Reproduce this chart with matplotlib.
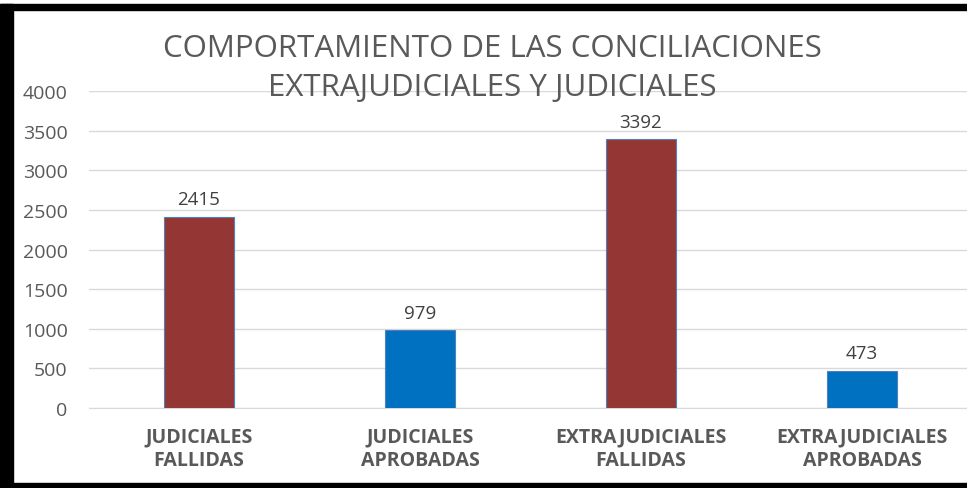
import matplotlib
matplotlib.use("Agg")
import matplotlib.pyplot as plt
from matplotlib.patches import Rectangle

plt.rcParams['font.family'] = ['Open Sans', 'DejaVu Sans']

# chart data
categories = ["JUDICIALES\nFALLIDAS", "JUDICIALES\nAPROBADAS",
              "EXTRAJUDICIALES\nFALLIDAS", "EXTRAJUDICIALES\nAPROBADAS"]
values = [2415, 979, 3392, 473]
bar_colors = ["#943634", "#0070C0", "#943634", "#0070C0"]
y_ticks = [0, 500, 1000, 1500, 2000, 2500, 3000, 3500, 4000]

W, H = 967, 489
fig = plt.figure(figsize=(W / 100, H / 100), dpi=100)
fig.patch.set_facecolor("white")

ax = fig.add_axes([88.5 / W, 1 - 409 / H, 884 / W, 317 / H])
x = list(range(len(categories)))
ax.bar(x, values, width=0.32, color=bar_colors, edgecolor="#4F81BD",
       linewidth=0.8, zorder=3)

for xi, v in zip(x, values):
    ax.annotate(str(v), (xi, v), xytext=(0, 6), textcoords="offset points",
                ha="center", va="bottom", fontsize=13.5, color="#404040")

ax.set_xlim(-0.5, len(categories) - 0.5)
ax.set_ylim(0, 4000)
ax.set_yticks(y_ticks)
ax.set_yticklabels([str(t) for t in y_ticks], fontsize=14, color="#595959")
ax.set_xticks(x)
ax.set_xticklabels(categories, fontsize=14, fontweight="bold",
                   color="#595959", linespacing=1.25)
ax.tick_params(axis="both", length=0)
ax.tick_params(axis="y", pad=15)
ax.tick_params(axis="x", pad=13)
ax.grid(axis="y", color="#D9D9D9", linewidth=1, zorder=0)
for side in ["top", "right", "left"]:
    ax.spines[side].set_visible(False)
ax.spines["bottom"].set_color("#D9D9D9")

fig.text(492 / W, 1 - 68.5 / H, "COMPORTAMIENTO DE LAS CONCILIACIONES\nEXTRAJUDICIALES Y JUDICIALES",
         ha="center", va="center", fontsize=22.5, color="#595959", linespacing=1.42)

# black frame around the chart image
fig.patches.append(Rectangle((0, 0), 13 / W, 1 - 5 / H, transform=fig.transFigure,
                             color="black", zorder=10))
fig.patches.append(Rectangle((0, 1 - 11 / H), 1, 6 / H, transform=fig.transFigure,
                             color="black", zorder=10))
fig.patches.append(Rectangle((0, 0), 1, 5 / H, transform=fig.transFigure,
                             color="black", zorder=10))

fig.savefig("out.png", dpi=100)
